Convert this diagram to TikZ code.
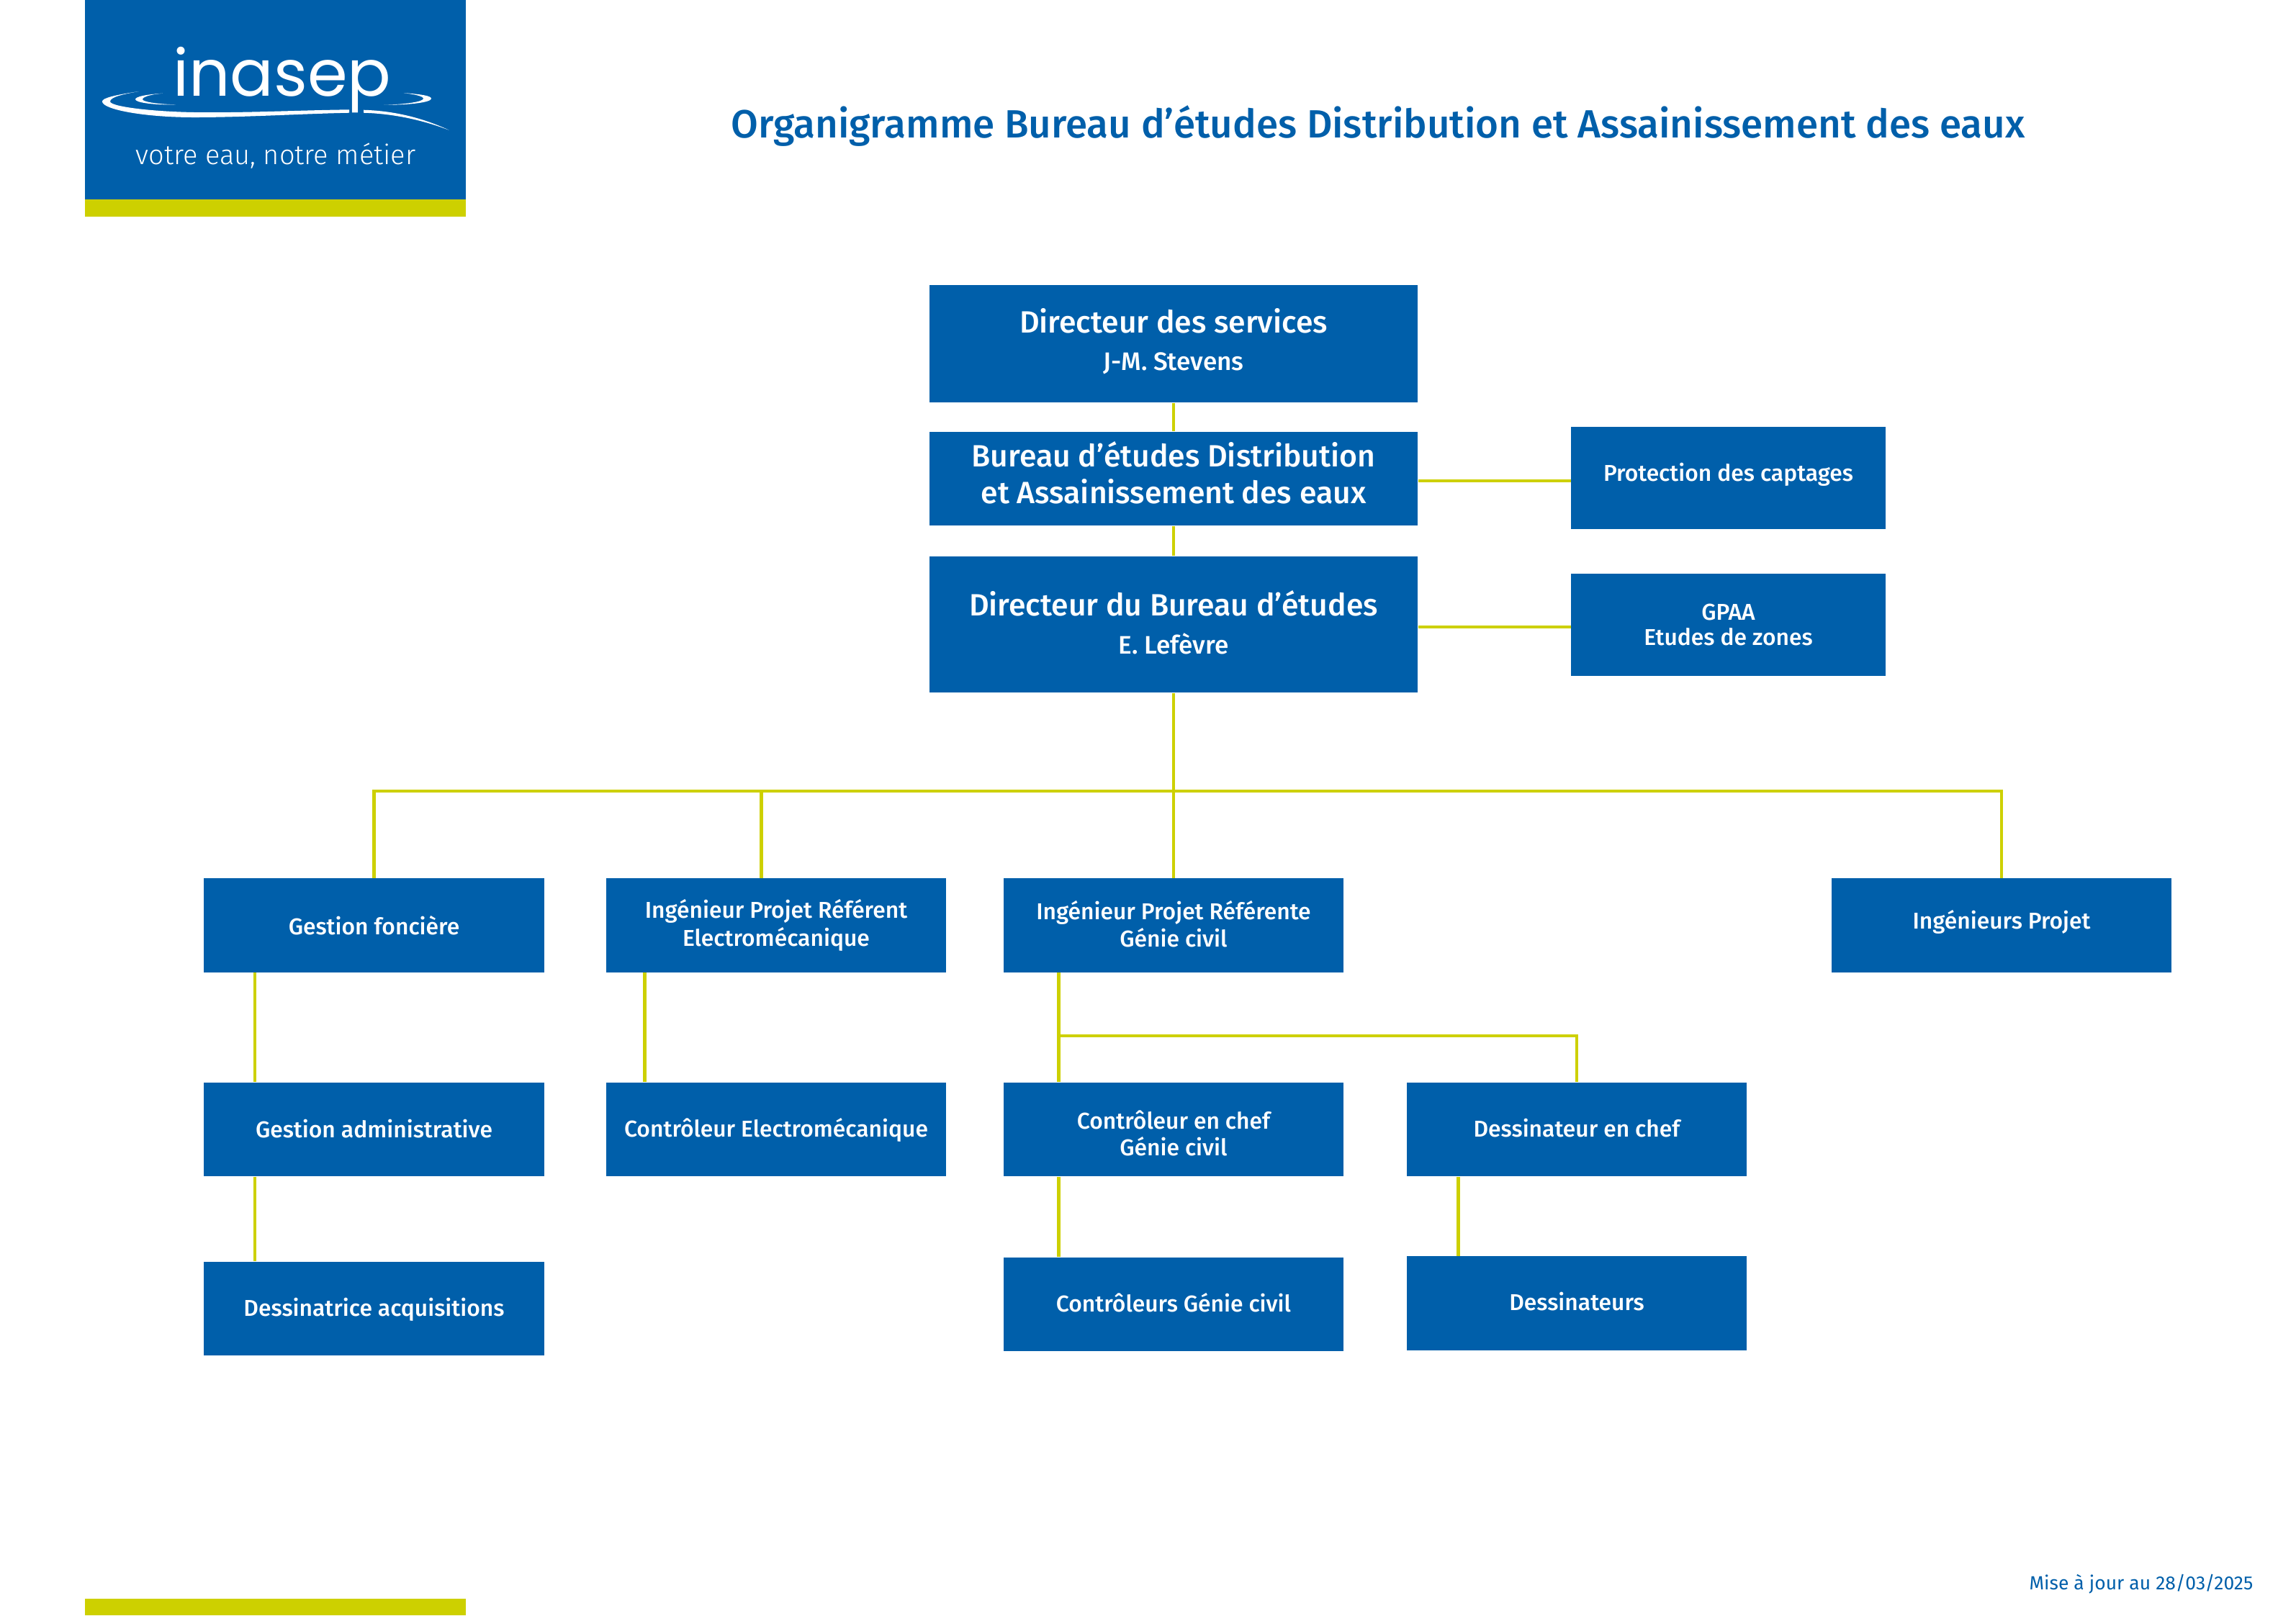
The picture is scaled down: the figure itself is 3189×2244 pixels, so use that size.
\documentclass[tikz,border=0pt]{standalone}
\usepackage{fontspec}
\setmainfont{Fira Sans}[BoldFont={Fira Sans Medium}]
\newfontfamily\logofont{Poppins}
\newfontfamily\slogfont{Fira Sans Light}
\definecolor{inablue}{RGB}{0,95,170}
\definecolor{inayellow}{RGB}{205,208,0}
\newcommand{\smalltxt}{\fontsize{9.05}{11}\bfseries\selectfont}
\newcommand{\nametxt}{\fontsize{10}{11}\bfseries\selectfont}
\newcommand{\bigtxt}{\fontsize{12.15}{14.5}\bfseries\selectfont}
\tikzstyle{orgbox}=[fill=inablue, text=white, minimum width=4.72cm, minimum height=1.3cm, inner sep=0pt, align=center, font=\smalltxt]
\tikzstyle{topbox}=[orgbox, minimum width=6.78cm, font=\bigtxt]
\tikzstyle{sidebox}=[orgbox, minimum width=4.37cm, minimum height=1.42cm]
\tikzstyle{link}=[draw=inayellow, line width=1.3pt]
\tikzstyle{swoosh}=[fill=white, draw=none]

\begin{document}
\begin{tikzpicture}[x=0.01cm,y=-0.01cm]
            \useasboundingbox (0,0) rectangle (3189,2244);
            % logo
            \fill[inablue] (118,0) rectangle (647,277);
            \fill[inayellow] (118,277) rectangle (647,301);
            \fill[inayellow] (118,2221) rectangle (647,2244);
            \node[text=white,inner sep=0pt,anchor=base,font=\logofont\fontsize{25.5}{26}\selectfont] at (392,133) (logoname) {inasep};
            \node[text=white,inner sep=0pt,anchor=base,font=\slogfont\fontsize{10.8}{12}\selectfont] at (383,228) (slogan) {votre eau, notre métier};
            \path[swoosh] (192.5,127) .. controls (160,132) and (142,136) .. (142,141) .. controls (142,152) and (200,163) .. (270,163) .. controls (340,163) and (420,158) .. (485,156.7) -- (485,152.3) .. controls (420,153) and (340,157) .. (270,156) .. controls (210,155) and (153,148) .. (153,141) .. controls (153,135) and (170,131) .. cycle;
            \path[swoosh] (226,129.7) .. controls (205,131) and (188,134) .. (188,138) .. controls (188,142) and (210,146) .. (244,145.3) .. controls (215,144.5) and (198,141) .. (198,138) .. controls (198,134.5) and (210,131) .. cycle;
            \path[swoosh] (505,152.7) .. controls (550,154) and (590,165) .. (623.5,180.7) .. controls (590,168) and (550,158) .. (505,156.7) -- cycle;
            \path[swoosh] (560.6,129) .. controls (585,131) and (599,133) .. (599,137) .. controls (599,142) and (570,146) .. (533,145.7) .. controls (565,145) and (588,141) .. (588,137) .. controls (588,133.5) and (575,131) .. cycle;
            % title and date
            \node[text=inablue,inner sep=0pt,font=\fontsize{15.57}{18}\bfseries\selectfont] at (1914,175) (title) {Organigramme Bureau d’études Distribution et Assainissement des eaux};
            \node[text=inablue,inner sep=0pt,anchor=east,font=\fontsize{7.53}{8}\selectfont] at (3130,2201) (update) {Mise à jour au 28/03/2025};
            % top of the chart
            \node[topbox, minimum height=1.63cm, text depth=0.12cm] at (1630,477.5) (dirserv) {Directeur des services\\[0.3pt]{\nametxt J-M. Stevens}};
            \node[topbox, text depth=0.18cm] at (1630,665) (bureau) {Bureau d’études Distribution\\et Assainissement des eaux};
            \node[topbox, minimum height=1.89cm, text depth=0.06cm] at (1630,867.5) (dirbe) {Directeur du Bureau d’études\\[0.5pt]{\nametxt E. Lefèvre}};
            \node[sidebox, text depth=0.16cm] at (2400.5,664) (captages) {Protection des captages};
            \node[sidebox] at (2400.5,868) (gpaa) {GPAA\\[-1pt]Etudes de zones};
            % first row
            \node[orgbox] at (519.5,1285.5) (fonciere) {Gestion foncière};
            \node[orgbox] at (1078,1285.5) (refelec) {Ingénieur Projet Référent\\Electromécanique};
            \node[orgbox, text depth=0.04cm] at (1630,1285.5) (refgc) {Ingénieur Projet Référente\\Génie civil};
            \node[orgbox, text depth=0.17cm] at (2780,1285.5) (ingprojet) {Ingénieurs Projet};
            % second row
            \node[orgbox, text depth=0.03cm] at (519.5,1569) (admin) {Gestion administrative};
            \node[orgbox, text depth=0.05cm] at (1078,1569) (ctrlelec) {Contrôleur Electromécanique};
            \node[orgbox, text height=0.73cm] at (1630,1569) (chefgc) {Contrôleur en chef\\[-0.6pt]Génie civil};
            \node[orgbox, text depth=0.04cm] at (2190,1569) (chefdes) {Dessinateur en chef};
            % third row
            \node[orgbox, text depth=0.05cm] at (519.5,1818) (acqui) {Dessinatrice acquisitions};
            \node[orgbox, text depth=0.06cm] at (1630,1812) (ctrlgc) {Contrôleurs Génie civil};
            \node[orgbox, text depth=0.06cm] at (2190,1810.5) (dessins) {Dessinateurs};
            % junctions
            \coordinate (trunk) at (1630,1099);
            \coordinate (elecdrop) at (1057.6,1220);
            \coordinate (gcjoin) at (1471,1439);
            \coordinate (captin) at (2182,668);
            \coordinate (gpaain) at (2182,871);
            % connectors
            \draw (dirserv) edge[link] (bureau);
            \draw (bureau) edge[link] (dirbe);
            \draw (dirbe) edge[link] (refgc);
            \draw (bureau.east |- captin) edge[link] (captin);
            \draw (dirbe.east |- gpaain) edge[link] (gpaain);
            \draw[link] (fonciere.north) |- (trunk) -| (ingprojet.north);
            \draw (trunk -| elecdrop) edge[link] (elecdrop);
            \draw ([xshift=0.713cm]fonciere.south west) edge[link] ([xshift=0.713cm]admin.north west);
            \draw ([xshift=0.713cm]admin.south west) edge[link] ([xshift=0.713cm]acqui.north west);
            \draw ([xshift=0.545cm]refelec.south west) edge[link] ([xshift=0.545cm]ctrlelec.north west);
            \draw ([xshift=0.77cm]refgc.south west) edge[link] ([xshift=0.77cm]chefgc.north west);
            \draw ([xshift=0.77cm]chefgc.south west) edge[link] ([xshift=0.77cm]ctrlgc.north west);
            \draw[link] (gcjoin) -| (chefdes.north);
            \draw ([xshift=0.72cm]chefdes.south west) edge[link] ([xshift=0.72cm]dessins.north west);
        \end{tikzpicture}
\end{document}
